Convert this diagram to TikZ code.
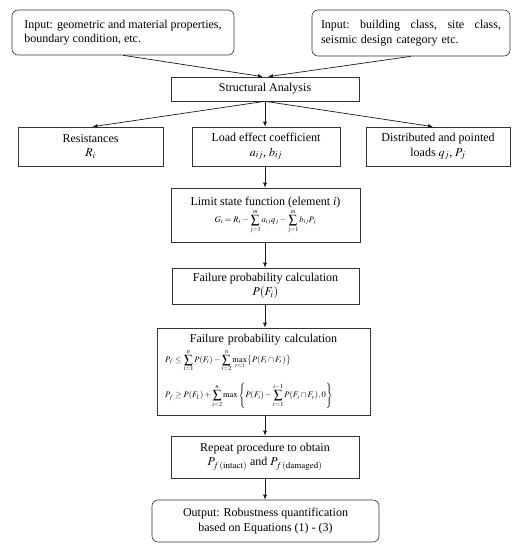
\documentclass[tikz,border=0pt]{standalone}
\usepackage{mathptmx}
\usepackage{fontspec}
\setmainfont{Liberation Serif}
\usetikzlibrary{arrows.meta,positioning}

\tikzset{
  box/.style={draw=black!80, line width=0.6pt, align=center, inner sep=2pt,
    font=\fontsize{12}{14.5}\selectfont},
  inbox/.style={box, rounded corners=6pt},
  flow/.style={draw=black!90, line width=0.7pt, -{Latex[length=5pt,width=4pt]}},
}
\newcommand{\eqsize}{\fontsize{8.5}{10}\selectfont}

\begin{document}
\begin{tikzpicture}[x=1pt,y=-1pt]
        \useasboundingbox (0,0) rectangle (516,550);
        % inputs
        \node[inbox, minimum width=222pt, minimum height=45pt, align=left] (geom) at (123,32.5)
          {Input: geometric and material properties,\\ boundary condition, etc.};
        \node[inbox, minimum width=198pt, minimum height=46pt, text width=180pt, align=left] (site) at (411,33)
          {Input:\hfill building\hfill class,\hfill site\hfill class,\\ seismic design category etc.};
        \node[box, minimum width=188pt, minimum height=24pt] (anal) at (265,89) {Structural Analysis};
        % second row
        \node[box, minimum width=145pt, minimum height=39pt] (resist) at (90.5,146.5) {Resistances\\ $R_i$};
        \node[box, minimum width=148pt, minimum height=39pt] (coeff) at (266,146.5) {Load effect coefficient\\ $a_{ij}$, $b_{ij}$};
        \node[box, minimum width=144pt, minimum height=39pt] (loads) at (438,146.5) {Distributed and pointed\\ loads $q_j$, $P_j$};
        % main column
        \node[box, minimum width=189pt, minimum height=54pt] (limit) at (265.5,215)
          {Limit state function (element \textit{i})\\[1pt]
           {\eqsize $\displaystyle G_i = R_i - \sum_{j=1}^{m} a_{ij} q_j - \sum_{j=1}^{m} b_{ij} P_j$}};
        \node[box, minimum width=187pt, minimum height=36pt] (fprob) at (265.5,286) {Failure probability calculation\\ $P(F_i)$};
        \node[box, minimum width=213pt, minimum height=87pt, text width=197pt] (bounds) at (263.5,371.5)
          {Failure probability calculation\\[3pt]
           \makebox[\linewidth][l]{\eqsize $\displaystyle P_f \le \sum_{i=1}^{n} P(F_i) - \sum_{i=2}^{n} \max_{r<i} \bigl\{ P(F_i \cap F_r) \bigr\}$}\\[10pt]
           \makebox[\linewidth][l]{\eqsize $\displaystyle P_f \ge P(F_1) + \sum_{i=2}^{n} \max \left\{ P(F_i) - \sum_{r=1}^{i-1} P(F_i \cap F_r), 0 \right\}$}};
        \node[box, minimum width=188pt, minimum height=42pt] (repeat) at (265,457)
          {Repeat procedure to obtain\\ $P_{f\,(\mathrm{intact})}$ and $P_{f\,(\mathrm{damaged})}$};
        \node[inbox, minimum width=227pt, minimum height=42pt] (output) at (265.5,521)
          {Output: Robustness quantification\\ based on Equations (1) - (3)};
        % connectors
        \draw[flow] (geom.south) -- ([xshift=-2pt]anal.north);
        \draw[flow] (site.south) -- ([xshift=3pt]anal.north);
        \draw[flow] (anal.south) -- ([xshift=2pt]resist.north);
        \draw[flow] (anal.south) -- (coeff.north -| anal.south);
        \draw[flow] (anal.south) -- ([xshift=-5pt]loads.north);
        \draw[flow] (coeff.south -| anal.south) -- (limit.north -| anal.south);
        \draw[flow] (limit.south -| anal.south) -- (fprob.north -| anal.south);
        \draw[flow] (fprob.south -| anal.south) -- (bounds.north -| anal.south);
        \draw[flow] (bounds.south -| anal.south) -- (repeat.north -| anal.south);
        \draw[flow] (repeat.south -| anal.south) -- (output.north -| anal.south);
\end{tikzpicture}
\end{document}
